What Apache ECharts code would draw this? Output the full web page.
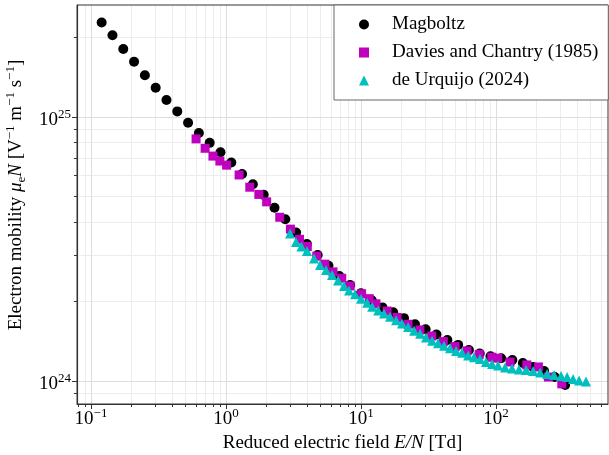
<!DOCTYPE html>
<html><head><meta charset="utf-8">
<script src="https://cdn.jsdelivr.net/npm/echarts@6/dist/echarts.min.js"></script>
<style>html,body{margin:0;padding:0;background:#fff}#c{width:609px;height:455px}</style>
</head><body><div id="c"></div>
<script>
const FF = 'Liberation Serif';
const seriesNames = ['Magboltz', 'Davies and Chantry (1985)', 'de Urquijo (2024)'];
const magboltzX = [0.1199,0.1442,0.1734,0.2084,0.2506,0.3013,0.3622,0.4355,0.5236,0.6295,0.7568,0.9099,1.094,1.315,1.581,1.901,2.286,2.748,3.304,3.972,4.775,5.741,6.902,8.299,9.977,12.0,14.4,17.3,20.8,25.1,30.1,36.2,43.6,52.4,63.0,75.7,91.0,109,132,158,188,227,272,325];
const magboltzY = [2.28e25,2.04e25,1.81e25,1.62e25,1.44e25,1.29e25,1.16e25,1.05e25,9.51e24,8.69e24,7.98e24,7.35e24,6.72e24,6.08e24,5.56e24,5.07e24,4.53e24,4.10e24,3.65e24,3.30e24,3.00e24,2.73e24,2.50e24,2.31e24,2.15e24,2.02e24,1.90e24,1.82e24,1.73e24,1.64e24,1.57e24,1.50e24,1.43e24,1.37e24,1.31e24,1.27e24,1.24e24,1.22e24,1.20e24,1.17e24,1.13e24,1.09e24,1.035e24,9.66e23];
const daviesX = [0.60,0.70,0.80,0.90,1.01,1.25,1.5,1.75,2.0,2.5,3.0,3.5,4.0,4.7,5.4,6.2,7.2,8.3,10.1,11.5,12.9,15.6,18.5,22.3,27.3,33.4,40.7,49.7,61,75,93,103,127,169,206,244,307];
const daviesY = [8.26e24,7.61e24,7.11e24,6.81e24,6.57e24,6.03e24,5.42e24,5.09e24,4.77e24,4.17e24,3.76e24,3.44e24,3.23e24,2.97e24,2.77e24,2.59e24,2.45e24,2.29e24,2.14e24,2.05e24,1.96e24,1.84e24,1.74e24,1.64e24,1.56e24,1.48e24,1.41e24,1.35e24,1.30e24,1.26e24,1.23e24,1.22e24,1.18e24,1.15e24,1.13e24,1.035e24,9.75e23];
const urquijoX = [2.98,3.30,3.62,3.98,4.49,4.97,5.51,6.10,6.76,7.48,8.15,9.03,10.0,11.1,12.1,13.4,14.8,16.4,18.2,20.1,22.3,24.7,27.4,30.3,33.6,37.2,41.2,45.6,50.6,56.0,62.1,68.7,76.1,84.3,93.4,103.5,116.6,131.5,148,167,188,212,239,269,303,336,372,412,464];
const urquijoY = [3.62e24,3.36e24,3.23e24,3.11e24,2.91e24,2.75e24,2.63e24,2.52e24,2.40e24,2.29e24,2.20e24,2.13e24,2.05e24,1.98e24,1.91e24,1.85e24,1.80e24,1.75e24,1.70e24,1.65e24,1.60e24,1.55e24,1.51e24,1.46e24,1.42e24,1.39e24,1.36e24,1.33e24,1.30e24,1.28e24,1.25e24,1.23e24,1.21e24,1.18e24,1.16e24,1.145e24,1.125e24,1.115e24,1.105e24,1.10e24,1.09e24,1.077e24,1.063e24,1.054e24,1.045e24,1.035e24,1.018e24,1.005e24,9.96e23];
const xMajorTicks = [0.1, 1, 10, 100];
const xMinorTicks = [0.08,0.09,0.2,0.3,0.4,0.5,0.6,0.7,0.8,0.9,2,3,4,5,6,7,8,9,20,30,40,50,60,70,80,90,200,300,400,500,600];
const yMajorTicks = [1e24, 1e25];
const yMinorTicks = [9e23,2e24,3e24,4e24,5e24,6e24,7e24,8e24,9e24,2e25];
const xRange = [0.07875, 675];
const yRange = [8.18e23, 2.656e25];

const zip = (a, b) => a.map((v, i) => [v, b[i]]);
const supFmt = v => { const e = Math.round(Math.log10(v)); return '{b|10}{s|' + (e < 0 ? '\u2212' + (-e) : e) + '}'; };
const richNum = {
  b: {fontSize: 19, fontFamily: FF, color: '#000', lineHeight: 24},
  s: {fontSize: 13, fontFamily: FF, color: '#000', lineHeight: 13, verticalAlign: 'top'}
};
const axisColor = '#333';
const majorGrid = '#dedede';
const minorGrid = '#ececec';

function majorAxis(range, ticks, labelExtra, extra) {
  return Object.assign({
    type: 'log', logBase: 10, min: range[0], max: range[1],
    axisLine: {show: true, lineStyle: {color: axisColor, width: 1}},
    axisTick: {show: true, inside: false, length: 5, customValues: ticks, lineStyle: {color: axisColor}},
    axisLabel: Object.assign({show: true, customValues: ticks, formatter: supFmt, rich: richNum, margin: 5}, labelExtra),
    splitLine: {show: true, lineStyle: {color: majorGrid, width: 1}},
    minorTick: {show: false}, minorSplitLine: {show: false}, z: 3
  }, extra);
}
function minorAxis(range, ticks, pos) {
  return {
    type: 'log', logBase: 10, min: range[0], max: range[1], position: pos,
    axisLine: {show: false},
    axisTick: {show: true, inside: false, length: 3, customValues: ticks, lineStyle: {color: axisColor}},
    axisLabel: {show: false},
    splitLine: {show: true, lineStyle: {color: minorGrid, width: 1}},
    minorTick: {show: false}, z: 2
  };
}

const chart = echarts.init(document.getElementById('c'), null, {renderer: 'canvas'});
chart.setOption({
  animation: false,
  backgroundColor: '#fff',
  textStyle: {fontFamily: FF},
  grid: {left: 77, right: 1, top: 5, bottom: 51, show: true, borderColor: axisColor, borderWidth: 1, containLabel: false, outerBoundsMode: 'none', z: 4},
  legend: {
    orient: 'vertical', left: 334, top: 5, itemWidth: 10, itemHeight: 10, itemGap: 9,
    padding: [10, 10, 10, 25], borderColor: '#666', borderWidth: 1, borderRadius: 0, backgroundColor: '#fff',
    textStyle: {fontFamily: FF, fontSize: 19, color: '#000', padding: [0, 0, 0, 18]},
    data: [{name: seriesNames[0], icon: 'circle'}, {name: seriesNames[1], icon: 'rect'}, {name: seriesNames[2], icon: 'triangle'}],
    z: 10
  },
  xAxis: [
    majorAxis(xRange, xMajorTicks, {margin: 3}, {
      position: 'bottom', name: 'Reduced electric field {i|E/N} [Td]', nameLocation: 'middle', nameGap: 28,
      nameTextStyle: {fontFamily: FF, fontSize: 19, color: '#000', rich: {i: {fontFamily: FF, fontSize: 19, fontStyle: 'italic', color: '#000'}}}
    }),
    minorAxis(xRange, xMinorTicks, 'bottom')
  ],
  yAxis: [
    majorAxis(yRange, yMajorTicks, {margin: 6, padding: [6, 0, 0, 0]}, {
      position: 'left', name: '\u2003Electron mobility {i|\u03bc}{sub|e}{i|N} [V{sup|\u22121} m{sup|\u22121} s{sup|\u22121}]',
      nameLocation: 'middle', nameGap: 47,
      nameTextStyle: {fontFamily: FF, fontSize: 19, color: '#000', lineHeight: 24, rich: {
        i: {fontFamily: FF, fontSize: 19, fontStyle: 'italic', color: '#000', lineHeight: 24},
        sub: {fontFamily: FF, fontSize: 13, color: '#000', lineHeight: 17, verticalAlign: 'bottom'},
        sup: {fontFamily: FF, fontSize: 13, color: '#000', lineHeight: 13, verticalAlign: 'top'}
      }}
    }),
    minorAxis(yRange, yMinorTicks, 'left')
  ],
  series: [
    {type: 'scatter', name: seriesNames[0], xAxisIndex: 0, yAxisIndex: 0, data: zip(magboltzX, magboltzY), symbol: 'circle', symbolSize: 10, itemStyle: {color: '#000', opacity: 1}, z: 5},
    {type: 'scatter', name: seriesNames[1], xAxisIndex: 0, yAxisIndex: 0, data: zip(daviesX, daviesY), symbol: 'rect', symbolSize: 9, itemStyle: {color: '#bf00bf', opacity: 1}, z: 6},
    {type: 'scatter', name: seriesNames[2], xAxisIndex: 0, yAxisIndex: 0, data: zip(urquijoX, urquijoY), symbol: 'triangle', symbolSize: 10, itemStyle: {color: '#00bfbf', opacity: 1}, z: 7}
  ]
});
</script>
</body></html>
